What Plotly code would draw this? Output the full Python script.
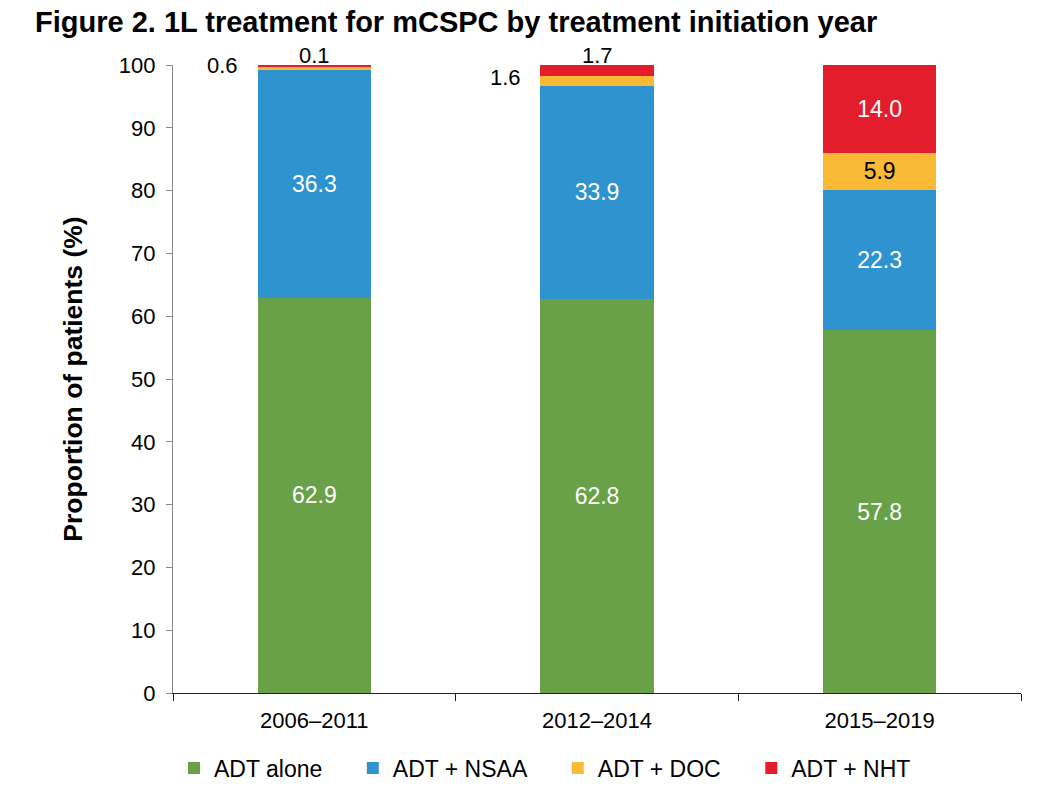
import plotly.graph_objects as go

categories = ["2006–2011", "2012–2014", "2015–2019"]
series_names = ["ADT alone", "ADT + NSAA", "ADT + DOC", "ADT + NHT"]
adt_alone = [62.9, 62.8, 57.8]
adt_nsaa = [36.3, 33.9, 22.3]
adt_doc = [0.6, 1.6, 5.9]
adt_nht = [0.1, 1.7, 14.0]
y_ticks = [0, 10, 20, 30, 40, 50, 60, 70, 80, 90, 100]

series_values = [adt_alone, adt_nsaa, adt_doc, adt_nht]
colors = ["#68A148", "#2E93CE", "#FBBA35", "#E41D2C"]
text_colors = ["white", "white", "black", "white"]
FONT = "Liberation Sans, Arial, Helvetica, sans-serif"
SMALL = 3.0  # segments smaller than this get an outside label
PAD = "\u00a0\u00a0\u00a0\u00a0"  # trailing spacing between legend entries

fig = go.Figure()
for name, vals, col, tcol in zip(series_names, series_values, colors, text_colors):
    fig.add_trace(go.Bar(
        x=categories, y=vals, name=name + PAD,
        marker=dict(color=col, line=dict(width=0)),
        text=[f"{v:.1f}" if v >= SMALL else "" for v in vals],
        textposition="inside", insidetextanchor="middle",
        textangle=0, constraintext="none",
        textfont=dict(color=tcol, size=23, family=FONT),
        hoverinfo="skip",
    ))

annotations = []
for i, cat in enumerate(categories):
    base = adt_alone[i] + adt_nsaa[i]
    d = adt_doc[i]
    if d < SMALL:
        annotations.append(dict(
            x=cat, y=base + d / 2, xref="x", yref="y", text=f"{d:.1f}",
            showarrow=False, xanchor="right", yanchor="middle", xshift=-74, yshift=3,
            font=dict(size=22, color="black", family=FONT)))
    n = adt_nht[i]
    if n < SMALL:
        annotations.append(dict(
            x=cat, y=base + d + n, xref="x", yref="y", text=f"{n:.1f}",
            showarrow=False, xanchor="center", yanchor="middle", yshift=10,
            font=dict(size=22, color="black", family=FONT)))

fig.update_layout(
    barmode="stack",
    bargap=0.6,
    width=1038, height=790,
    margin=dict(l=173, r=17, t=65, b=97, pad=0, autoexpand=False),
    paper_bgcolor="white", plot_bgcolor="white",
    font=dict(family=FONT, color="black", size=22),
    title=dict(text="<b>Figure 2. 1L treatment for mCSPC by treatment initiation year</b>",
               x=35 / 1038, xref="container", xanchor="left",
               y=1 - 22 / 790, yref="container", yanchor="middle",
               font=dict(size=29, family=FONT, color="black")),
    xaxis=dict(
        showline=True, linecolor="#222222", linewidth=1.3,
        ticks="outside", tickson="boundaries", ticklen=7, tickcolor="#222222",
        tickfont=dict(size=22, family=FONT, color="black"),
        ticklabelstandoff=7,
        showgrid=False, zeroline=False,
    ),
    yaxis=dict(
        range=[0, 100], tickvals=y_ticks,
        showline=True, linecolor="#888888", linewidth=1.3,
        ticks="outside", ticklen=6, tickcolor="#888888",
        tickfont=dict(size=22, family=FONT, color="black"),
        ticklabelstandoff=6,
        showgrid=False, zeroline=False,
        title=dict(text="<b>Proportion of patients (%)</b>", standoff=28,
                   font=dict(size=26.5, family=FONT, color="black")),
    ),
    legend=dict(orientation="h", x=(174 - 173) / 848, xanchor="left",
                y=1 - 768 / 790, yref="container", yanchor="middle",
                traceorder="normal",
                font=dict(size=23, family=FONT, color="black")),
    annotations=annotations,
)

fig.write_html("out.html")
